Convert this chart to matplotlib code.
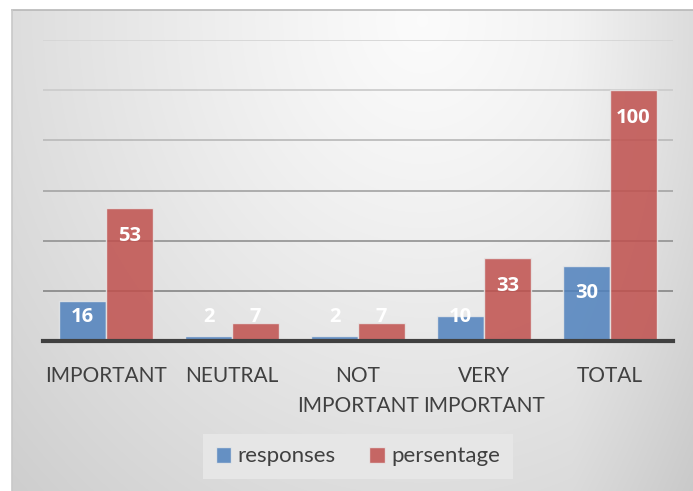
import numpy as np
import matplotlib.pyplot as plt
from matplotlib.patches import Patch

plt.rcParams['font.family'] = ['Lato', 'DejaVu Sans']

# Survey data
categories = ['IMPORTANT', 'NEUTRAL', 'NOT\nIMPORTANT', 'VERY\nIMPORTANT', 'TOTAL']
responses = [16, 2, 2, 10, 30]
persentage = [53, 7, 7, 33, 100]

blue = '#4f81bd'
red = '#c0504d'
text_gray = '#404040'

W, H = 693, 491
fig = plt.figure(figsize=(W / 100, H / 100), dpi=100, facecolor='white')

# Gradient panel behind the chart (light top-right, darker bottom-left)
bg = fig.add_axes([12 / W, 0, 1 - 12 / W, 1 - 10 / H])
yy, xx = np.mgrid[0:481, 0:681]
d = np.sqrt(((xx - 410) / 1.0) ** 2 + ((yy - 10) / 1.15) ** 2)
shade = 0.985 - 0.2 * np.clip(d / 640, 0, 1) ** 1.2
shade -= 0.05 * np.clip((xx - 560) / 120, 0, 1)
bg.imshow(np.dstack([shade] * 3), aspect='auto', extent=[0, 1, 0, 1], origin='upper')
bg.set_xlim(0, 1)
bg.set_ylim(0, 1)
bg.axis('off')
fig.add_artist(plt.Line2D([12 / W, 1], [1 - 10 / H] * 2, color='#b8b8b8', lw=1.2))
fig.add_artist(plt.Line2D([12 / W] * 2, [0, 1 - 10 / H], color='#c8c8c8', lw=1.2))

# Main bar chart
ax = fig.add_axes([43 / W, (H - 341) / H, (673 - 43) / W, (341 - 40) / H])
ax.set_facecolor('none')
ax.set_xlim(-0.5, len(categories) - 0.5)
ax.set_ylim(0, 120)

grid_colors = ['#8c8c8c', '#989898', '#a8a8a8', '#bcbcbc', '#cdcdcd', '#d6d6d6']
for level, c in zip(range(20, 121, 20), grid_colors):
    ax.axhline(level, color=c, lw=1.3, zorder=1)

x = np.arange(len(categories))
w = 0.373
ax.bar(x - w / 2, responses, w, color=blue, alpha=0.85, edgecolor='#e8e8e8',
       linewidth=1.0, zorder=2, label='responses')
ax.bar(x + w / 2, persentage, w, color=red, alpha=0.85, edgecolor='#e8e8e8',
       linewidth=1.0, zorder=2, label='persentage')

for xs, vals in ((x - w / 2, responses), (x + w / 2, persentage)):
    for xi, v in zip(xs, vals):
        ax.text(xi, max(v - 11, 9.5), str(v), ha='center', va='center',
                color='white', fontsize=14.5, fontweight='bold',
                family=['Open Sans', 'DejaVu Sans'], zorder=3)

ax.axhline(0, color='#404040', lw=3, zorder=4, clip_on=False)

ax.set_yticks([])
ax.set_xticks(x)
ax.set_xticklabels(categories, fontsize=15, color=text_gray, linespacing=1.6)
ax.tick_params(axis='x', length=0, pad=18)
for s in ax.spines.values():
    s.set_visible(False)

handles = [Patch(facecolor=blue, alpha=0.85, edgecolor='#e8e8e8'),
           Patch(facecolor=red, alpha=0.85, edgecolor='#e8e8e8')]
leg = fig.legend(handles, ['responses', 'persentage'], loc='center',
                 bbox_to_anchor=(358 / W, 1 - 456.5 / H), ncol=2,
                 fontsize=16, frameon=True, fancybox=False,
                 facecolor='#e6e6e6', edgecolor='none', framealpha=1,
                 handlelength=0.7, handleheight=0.7, handletextpad=0.3,
                 columnspacing=1.5, borderpad=0.55, borderaxespad=0)
for t in leg.get_texts():
    t.set_color(text_gray)

fig.savefig('out.png', dpi=100)
